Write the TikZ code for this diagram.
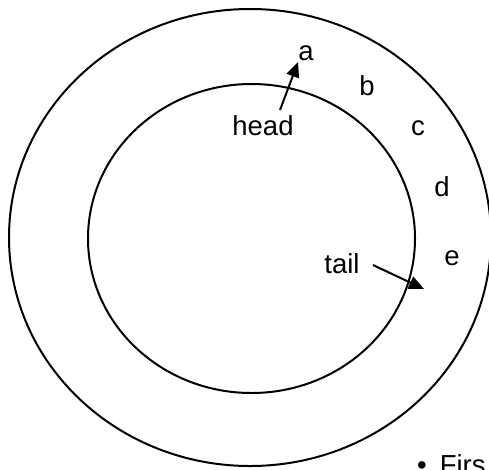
\documentclass[tikz,border=0pt]{standalone}
\usepackage{fontspec}
\setmainfont{Liberation Sans}
\usetikzlibrary{arrows.meta}
\begin{document}
\begin{tikzpicture}[x=1pt,y=-1pt,
  ring/.style={line width=2pt},
  lbl/.style={anchor=base,inner sep=0pt,font=\fontsize{27.5}{33}\selectfont},
  ptr/.style={line width=2pt,-{Triangle[length=15pt,width=13pt]}}]
\useasboundingbox (0,0) rectangle (489,469);
\clip (0,0) rectangle (489,469);
\draw[ring] (250,237.5) ellipse [x radius=241,y radius=228.5];
\draw[ring] (251.5,238.5) ellipse [x radius=163.5,y radius=154.5];
\node[lbl] (a) at (306,60) {a};
\node[lbl] (b) at (367,95) {b};
\node[lbl] (c) at (418,135) {c};
\node[lbl] (d) at (442,196) {d};
\node[lbl] (e) at (452,265) {e};
\node[lbl] (head) at (263,135) {head};
\node[lbl] (tail) at (342,273) {tail};
\node[lbl,anchor=base west] (first) at (417,474.7) {\textbullet\hspace{13pt}Firs};
\coordinate (h0) at (280,110);
\coordinate (h1) at (298,62);
\coordinate (t0) at (373,265);
\coordinate (t1) at (424,289);
\draw[ptr] (h0) -- (h1);
\draw[ptr] (t0) -- (t1);
\end{tikzpicture}
\end{document}
